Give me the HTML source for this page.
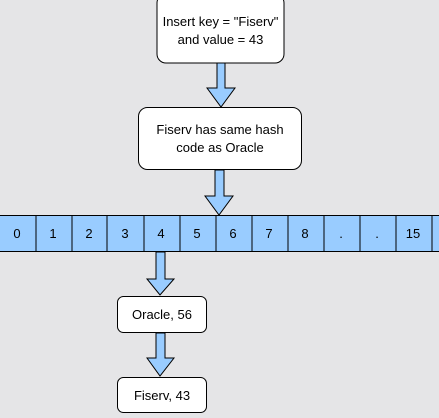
<!DOCTYPE html>
<html><head><style>
body{margin:0;width:439px;height:413px;background:#e5e5e7;overflow:hidden;font-family:"Liberation Sans",Arial,sans-serif;}
</style></head><body>
<svg width="439" height="413" xmlns="http://www.w3.org/2000/svg" font-family="Liberation Sans, Arial, sans-serif" font-size="13">
<rect x="157" y="-6" width="127" height="69" rx="9" fill="#fff" stroke="#000"/>
<text x="220.5" y="26" text-anchor="middle">Insert key = "Fiserv"</text>
<text x="220.5" y="44" text-anchor="middle">and value = 43</text>
<path d="M217,63 H225 V88 H235 L221,107 L207,88 H217 Z" fill="#99ccff" stroke="#000"/>
<rect x="138.5" y="107.5" width="163" height="62" rx="9" fill="#fff" stroke="#000"/>
<text x="220" y="134" text-anchor="middle">Fiserv has same hash</text>
<text x="220" y="152" text-anchor="middle">code as Oracle</text>
<path d="M215,170 H224 V196 H233 L219,215 L205,196 H215 Z" fill="#99ccff" stroke="#000"/>
<g fill="#99ccff" stroke="#000">
<rect x="-1" y="215.5" width="37" height="36"/>
<rect x="36" y="215.5" width="36" height="36"/>
<rect x="72" y="215.5" width="35" height="36"/>
<rect x="107" y="215.5" width="37" height="36"/>
<rect x="144" y="215.5" width="36" height="36"/>
<rect x="180" y="215.5" width="36" height="36"/>
<rect x="216" y="215.5" width="36" height="36"/>
<rect x="252" y="215.5" width="36" height="36"/>
<rect x="288" y="215.5" width="36" height="36"/>
<rect x="324" y="215.5" width="36" height="36"/>
<rect x="360" y="215.5" width="36" height="36"/>
<rect x="396" y="215.5" width="36" height="36"/>
<rect x="432" y="215.5" width="36" height="36"/>
</g>
<g text-anchor="middle">
<text x="17" y="238">0</text><text x="53" y="238">1</text><text x="89" y="238">2</text>
<text x="125" y="238">3</text><text x="161" y="238">4</text><text x="197" y="238">5</text>
<text x="233" y="238">6</text><text x="269" y="238">7</text><text x="305" y="238">8</text>
<text x="341" y="238">.</text><text x="377" y="238">.</text><text x="413" y="238">15</text>
</g>
<path d="M156,252 H165 V279 H174 L160,295 L147,279 H156 Z" fill="#99ccff" stroke="#000"/>
<rect x="117.5" y="296.5" width="89" height="36" rx="6" fill="#fff" stroke="#000"/>
<text x="162" y="319" text-anchor="middle">Oracle, 56</text>
<path d="M156,333 H165 V358 H174 L160,376 L147,358 H156 Z" fill="#99ccff" stroke="#000"/>
<rect x="117.5" y="377.5" width="89" height="35" rx="6" fill="#fff" stroke="#000"/>
<text x="162" y="400" text-anchor="middle">Fiserv, 43</text>
</svg>
</body></html>
